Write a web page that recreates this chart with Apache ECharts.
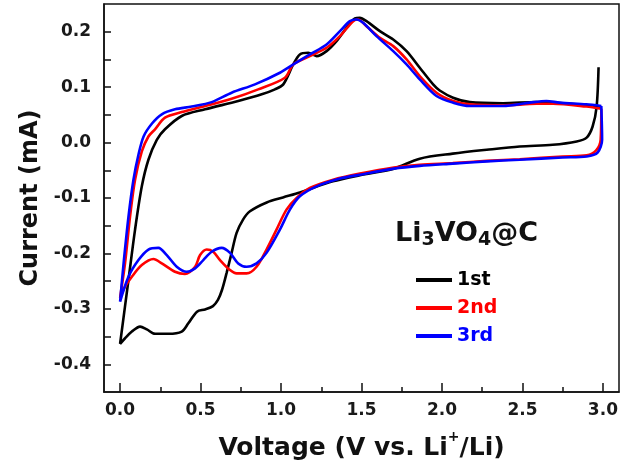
<!DOCTYPE html>
<html>
<head>
<meta charset="utf-8">
<script src="https://cdn.jsdelivr.net/npm/echarts@6/dist/echarts.min.js"></script>
<style>
html,body{margin:0;padding:0;background:#fff;}
#c{width:621px;height:468px;}
</style>
</head>
<body>
<div id="c"></div>
<script>
// Cycle 1 (black): starts at the initial spike, cathodic branch then anodic branch
const cycle1V = [2.973,2.961,2.936,2.899,2.837,2.688,2.483,2.278,2.067,1.862,1.701,1.490,1.322,1.117,1.012,0.911,0.807,0.764,0.724,0.693,0.662,0.633,0.608,0.577,0.528,0.478,0.424,0.383,0.300,0.217,0.166,0.124,0.073,0.031,0.0,
  0.052,0.093,0.135,0.176,0.228,0.279,0.383,0.528,0.734,0.880,0.962,1.014,1.076,1.117,1.169,1.221,1.283,1.345,1.407,1.459,1.490,1.531,1.614,1.697,1.780,1.862,1.945,1.986,2.069,2.173,2.379,2.587,2.690,2.897,2.990];
const cycle1I = [0.136,0.065,0.029,0.009,0.002,-0.004,-0.007,-0.013,-0.020,-0.029,-0.047,-0.059,-0.070,-0.090,-0.099,-0.108,-0.124,-0.139,-0.163,-0.199,-0.235,-0.266,-0.284,-0.295,-0.301,-0.305,-0.326,-0.341,-0.345,-0.345,-0.337,-0.332,-0.341,-0.353,-0.363,
  -0.248,-0.157,-0.079,-0.031,0.005,0.024,0.048,0.060,0.075,0.087,0.096,0.105,0.141,0.159,0.162,0.156,0.165,0.183,0.207,0.224,0.225,0.219,0.201,0.186,0.165,0.135,0.105,0.094,0.081,0.073,0.071,0.073,0.072,0.067,0.064];

// Cycle 2 (red)
const cycle2V = [2.990,2.986,2.958,2.899,2.750,2.483,2.278,2.067,1.862,1.701,1.490,1.324,1.179,1.097,1.034,0.972,0.910,0.848,0.786,0.724,0.683,0.621,0.579,0.538,0.497,0.466,0.403,0.341,0.259,0.207,0.135,0.073,0.031,0.0,
  0.031,0.062,0.093,0.135,0.176,0.217,0.279,0.383,0.528,0.693,0.858,1.024,1.076,1.179,1.283,1.366,1.448,1.479,1.531,1.614,1.697,1.780,1.862,1.966,2.069,2.173,2.379,2.587,2.690,2.897,2.990];
const cycle2I = [0.061,0.005,-0.014,-0.023,-0.025,-0.030,-0.033,-0.037,-0.040,-0.045,-0.056,-0.067,-0.082,-0.100,-0.121,-0.157,-0.193,-0.224,-0.236,-0.236,-0.230,-0.212,-0.197,-0.193,-0.203,-0.224,-0.237,-0.233,-0.218,-0.210,-0.221,-0.242,-0.260,-0.280,
  -0.217,-0.133,-0.067,-0.016,0.011,0.024,0.045,0.055,0.066,0.079,0.096,0.117,0.141,0.156,0.171,0.192,0.219,0.222,0.210,0.189,0.174,0.150,0.120,0.090,0.075,0.069,0.067,0.070,0.070,0.065,0.061];

// Cycle 3 (blue)
const cycle3V = [2.990,2.995,2.967,2.899,2.750,2.483,2.278,2.067,1.862,1.701,1.490,1.366,1.221,1.117,1.055,0.993,0.910,0.848,0.786,0.734,0.683,0.631,0.569,0.517,0.466,0.414,0.352,0.290,0.238,0.176,0.114,0.052,0.0,
  0.022,0.052,0.083,0.114,0.146,0.197,0.259,0.341,0.445,0.569,0.693,0.838,0.993,1.076,1.179,1.283,1.366,1.428,1.469,1.510,1.593,1.697,1.780,1.862,1.966,2.069,2.173,2.379,2.545,2.649,2.731,2.897,2.990];
const cycle3I = [0.066,0.005,-0.018,-0.025,-0.027,-0.031,-0.034,-0.038,-0.042,-0.047,-0.058,-0.065,-0.079,-0.097,-0.121,-0.157,-0.199,-0.218,-0.224,-0.218,-0.199,-0.190,-0.197,-0.212,-0.227,-0.233,-0.224,-0.203,-0.190,-0.193,-0.212,-0.242,-0.287,
  -0.217,-0.134,-0.067,-0.022,0.011,0.034,0.051,0.060,0.065,0.073,0.090,0.105,0.126,0.141,0.159,0.177,0.201,0.219,0.222,0.216,0.192,0.165,0.141,0.114,0.084,0.072,0.066,0.066,0.072,0.075,0.072,0.069,0.066];

const seriesNames = ['1st','2nd','3rd'];
const seriesColors = ['#000000','#ff0000','#0000ff'];
const xMajorTicks = [0,0.5,1.0,1.5,2.0,2.5,3.0];
const xMinorTicks = [0.25,0.75,1.25,1.75,2.25,2.75];
const yLabelTicks = [-0.4,-0.3,-0.2,-0.1,0,0.1,0.2];
const yAllTicks = [-0.4,-0.35,-0.3,-0.25,-0.2,-0.15,-0.1,-0.05,0,0.05,0.1,0.15,0.2];

const FONT = 'DejaVu Sans';
const zip = (a,b) => a.map((v,i)=>[v,b[i]]);
const cycles = [zip(cycle1V,cycle1I), zip(cycle2V,cycle2I), zip(cycle3V,cycle3I)];

const chart = echarts.init(document.getElementById('c'), null, {renderer:'canvas'});
chart.setOption({
  animation:false,
  backgroundColor:'#ffffff',
  grid:{left:104, top:4, width:515, height:388, show:true, borderColor:'#111', borderWidth:1.5, backgroundColor:'transparent'},
  title:{
    text:'{a|Li}{s|3}{a|VO}{s|4}{a|@C}',
    left:390, top:213,
    textStyle:{
      rich:{
        a:{fontFamily:FONT, fontWeight:'bold', fontSize:27, color:'#111', lineHeight:32},
        s:{fontFamily:FONT, fontWeight:'bold', fontSize:19, color:'#111', lineHeight:10, verticalAlign:'bottom'}
      }
    }
  },
  legend:{
    orient:'vertical', left:411, top:265,
    icon:'rect', itemWidth:36, itemHeight:4, itemGap:8,
    textStyle:{fontFamily:FONT, fontWeight:'bold', fontSize:19, lineHeight:20},
    data:seriesNames.map((n,i)=>({name:n, textStyle:{color:seriesColors[i]}}))
  },
  xAxis:[{
    type:'value', min:-0.1, max:3.1, position:'bottom',
    axisLine:{show:true, onZero:false, lineStyle:{color:'#111', width:1.5}},
    axisTick:{show:true, inside:true, length:9, customValues:xMajorTicks, lineStyle:{color:'#111', width:1.5}},
    axisLabel:{customValues:xMajorTicks, formatter:v=>v.toFixed(1), fontFamily:FONT, fontWeight:'bold', fontSize:17, color:'#1a1a1a', margin:10},
    splitLine:{show:false},
    name:'Voltage (V vs. Li{sup|+}/Li)', nameLocation:'middle', nameGap:38,
    nameTextStyle:{fontFamily:FONT, fontWeight:'bold', fontSize:25, color:'#111',
      rich:{sup:{fontFamily:FONT, fontWeight:'bold', fontSize:14, color:'#111', verticalAlign:'top', lineHeight:36}}}
  },{
    type:'value', min:-0.1, max:3.1, position:'bottom',
    axisLine:{show:false, onZero:false},
    axisTick:{show:true, inside:true, length:5, customValues:xMinorTicks, lineStyle:{color:'#111', width:1.5}},
    axisLabel:{show:false}, splitLine:{show:false}
  }],
  yAxis:{
    type:'value', min:-0.45, max:0.25,
    axisLine:{show:true, onZero:false, lineStyle:{color:'#111', width:1.5}},
    axisTick:{show:true, inside:true, length:7, customValues:yAllTicks, lineStyle:{color:'#111', width:1.5}},
    axisLabel:{customValues:yLabelTicks, formatter:v=>v.toFixed(1), fontFamily:FONT, fontWeight:'bold', fontSize:17, color:'#1a1a1a', margin:13},
    splitLine:{show:false},
    name:'Current (mA)', nameLocation:'middle', nameGap:56, nameRotate:90,
    nameTextStyle:{fontFamily:FONT, fontWeight:'bold', fontSize:24, color:'#111'}
  },
  series:cycles.map((d,i)=>({
    name:seriesNames[i], type:'line', data:d, xAxisIndex:0,
    showSymbol:false, symbol:'none', smooth:0.3,
    color:seriesColors[i],
    lineStyle:{color:seriesColors[i], width:2.6},
    itemStyle:{color:seriesColors[i]}
  }))
});
</script>
</body>
</html>
